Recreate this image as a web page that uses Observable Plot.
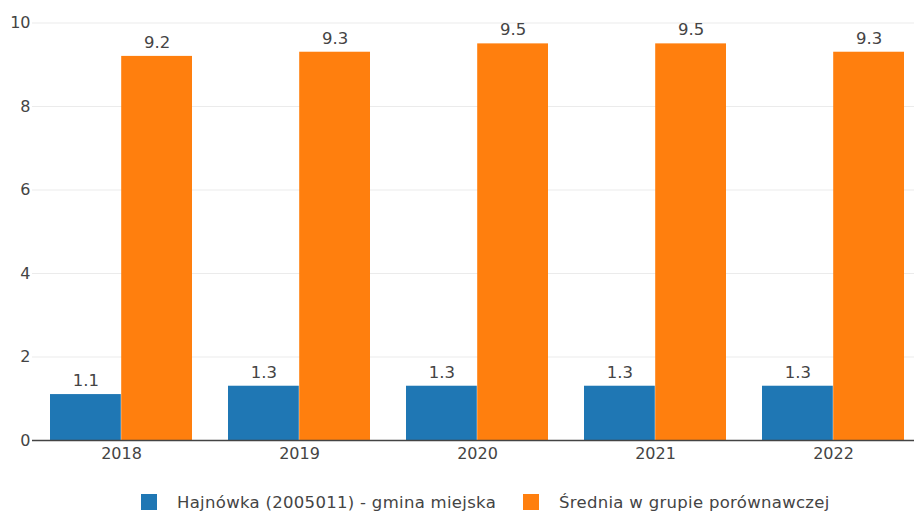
<!DOCTYPE html>
<html><head><meta charset="utf-8">
<script src="https://cdn.jsdelivr.net/npm/d3@7"></script>
<script src="https://cdn.jsdelivr.net/npm/@observablehq/plot@0.6"></script>
<style>
body{margin:0;background:#fff;font-family:"DejaVu Sans",Verdana,sans-serif;}
#legend{height:39px;font-size:16.5px;letter-spacing:0.3px;color:#444;position:relative;}
.item{position:absolute;display:flex;align-items:center;top:10px;height:34px;white-space:nowrap;}
.sw{width:16px;height:16px;display:inline-block;margin-right:20px;}
</style></head><body>
<div id="chart"></div>
<div id="legend"></div>
<script>
const years = ["2018","2019","2020","2021","2022"];
const seriesNames = ["Hajnówka (2005011) - gmina miejska","Średnia w grupie porównawczej"];
const hajnowka = [1.1,1.3,1.3,1.3,1.3];
const srednia = [9.2,9.3,9.5,9.5,9.3];
const colors = ["#1f77b4","#ff7f0e"];
const yTicks = [0,2,4,6,8,10];

const data = [];
years.forEach((y,i)=>{
  data.push({year:y, s:0, series:seriesNames[0], value:hajnowka[i]});
  data.push({year:y, s:1, series:seriesNames[1], value:srednia[i]});
});

const xRange = [32, 922];
const padIn = 0.2, padOut = 0.1;
const step = (xRange[1]-xRange[0]) / (years.length - padIn + 2*padOut);
const bw = step * (1 - padIn);
const half = bw / 2;

const font = "'DejaVu Sans',Verdana,sans-serif";
const chart = Plot.plot({
  width:914, height:475,
  marginTop:22.5, marginBottom:35, marginLeft:32, marginRight:0,
  style:{fontFamily:font, fontSize:"16px", color:"#444", background:"#fff"},
  x:{domain:years, range:xRange, paddingInner:padIn, paddingOuter:padOut, align:0.5, label:null},
  y:{domain:[0,10], label:null},
  color:{domain:seriesNames, range:colors},
  marks:[
    Plot.ruleY(yTicks.filter(d=>d>0), {stroke:"#ebebeb", strokeWidth:1}),
    Plot.barY(data.filter(d=>d.s===0), {x:"year", y:"value", fill:"series", insetRight:half, insetLeft:0}),
    Plot.barY(data.filter(d=>d.s===1), {x:"year", y:"value", fill:"series", insetLeft:half, insetRight:0}),
    Plot.text(data.filter(d=>d.s===0), {x:"year", y:"value", text:d=>d.value.toFixed(1), dx:-half/2, dy:-14, fill:"#444", fontSize:16.5}),
    Plot.text(data.filter(d=>d.s===1), {x:"year", y:"value", text:d=>d.value.toFixed(1), dx:half/2, dy:-14, fill:"#444", fontSize:16.5}),
    Plot.axisY({ticks:yTicks, tickSize:0, tickPadding:2, label:null, fontSize:16}),
    Plot.axisX({tickSize:0, tickPadding:7, label:null, fontSize:16}),
    Plot.ruleY([0], {stroke:"#444", strokeWidth:1.5}),
  ]
});
document.getElementById("chart").appendChild(chart);

const legend = document.getElementById("legend");
const legendX = [141, 523];
seriesNames.forEach((n,i)=>{
  const it = document.createElement("div");
  it.className = "item";
  it.style.left = legendX[i] + "px";
  const sw = document.createElement("span");
  sw.className = "sw"; sw.style.background = colors[i];
  const t = document.createElement("span"); t.textContent = n;
  it.appendChild(sw); it.appendChild(t);
  legend.appendChild(it);
});
</script>
</body></html>
